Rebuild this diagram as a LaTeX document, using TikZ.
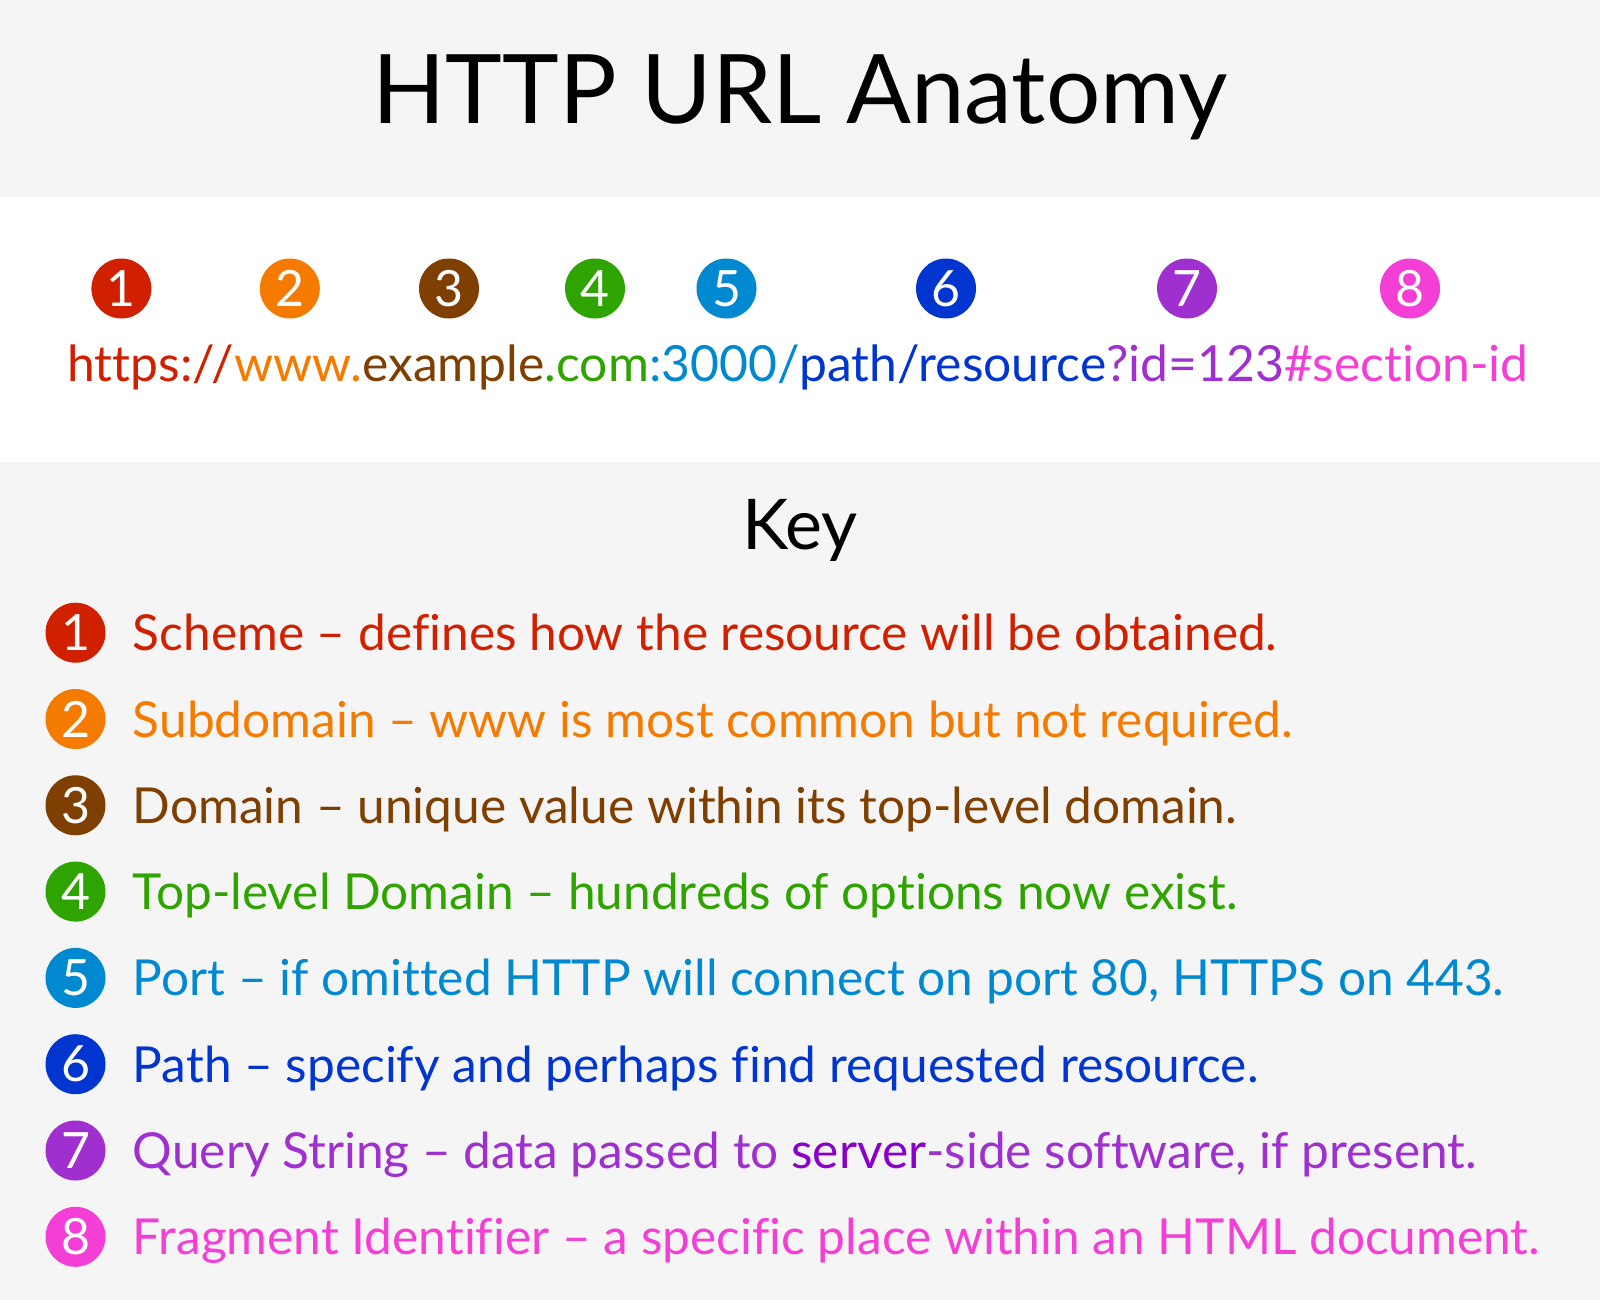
\documentclass[tikz,border=0pt]{standalone}
\usepackage{fontspec}
\setmainfont{Lato}[Ligatures={TeX,NoCommon}]
\usetikzlibrary{positioning}

\definecolor{bandgray}{HTML}{F5F5F5}
\definecolor{c1}{HTML}{D12000}
\definecolor{c2}{HTML}{F47B00}
\definecolor{c3}{HTML}{7F3F00}
\definecolor{c4}{HTML}{2FA300}
\definecolor{c5}{HTML}{0088D0}
\definecolor{c6}{HTML}{0035D0}
\definecolor{c7}{HTML}{A02FCF}
\definecolor{c7dark}{HTML}{8A00C8}
\definecolor{c8}{HTML}{F43FD6}

\begin{document}
\begin{tikzpicture}[x=1pt,y=1pt,node distance=86.3pt,
    num/.style={circle,fill=#1,text=white,minimum size=60pt,inner sep=0pt,font=\fontsize{50}{50}\selectfont},
    keytext/.style={anchor=west,inner sep=0pt,text height=36pt,text depth=0pt,text=#1,font=\fontsize{49.6}{60}\selectfont}]

            % bands
            \fill[bandgray] (0,0) rectangle (1600,-197);
            \fill[white] (0,-197) rectangle (1600,-462);
            \fill[bandgray] (0,-462) rectangle (1600,-1300);
            \useasboundingbox (0,0) rectangle (1600,-1300);

            \node[anchor=base,inner sep=0pt,font=\fontsize{96}{110}\selectfont] (title) at (800,-123.6) {HTTP URL Anatomy};

            \node[num=c1] (1) at (121.4,-288.5) {1};
            \node[num=c2] (2) at (289.8,-288.5) {2};
            \node[num=c3] (3) at (449,-288.5) {3};
            \node[num=c4] (4) at (595,-288.5) {4};
            \node[num=c5] (5) at (726.5,-288.5) {5};
            \node[num=c6] (6) at (946,-288.5) {6};
            \node[num=c7] (7) at (1187,-288.5) {7};
            \node[num=c8] (8) at (1410,-288.5) {8};

            \node[anchor=base,inner sep=0pt,font=\fontsize{49.8}{60}\selectfont] (url) at (798,-381)
                {\textcolor{c1}{https:/\kern-3pt/}\textcolor{c2}{www.}\textcolor{c3}{example}\textcolor{c4}{.com}\textcolor{c5}{:3000/}\textcolor{c6}{path/resource}\textcolor{c7}{?id=123}\textcolor{c8}{\#section-id}};

            \node[anchor=base,inner sep=0pt,font=\fontsize{70}{80}\selectfont] (key) at (800,-549) {Key};

            \node[num=c1] (k1) at (75.5,-632.7) {1};
            \node[num=c2] (k2) [below of = k1] {2};
            \node[num=c3] (k3) [below of = k2] {3};
            \node[num=c4] (k4) [below of = k3] {4};
            \node[num=c5] (k5) [below of = k4] {5};
            \node[num=c6] (k6) [below of = k5] {6};
            \node[num=c7] (k7) [below of = k6] {7};
            \node[num=c8] (k8) [below of = k7] {8};

            \node[keytext=c1, right=27pt of k1] (t1) {Scheme -- defines how the resource will be obtained.};
            \node[keytext=c2, right=27pt of k2] (t2) {Subdomain -- www is most common but not required.};
            \node[keytext=c3, right=27pt of k3] (t3) {Domain -- unique value within its top-level domain.};
            \node[keytext=c4, right=27pt of k4] (t4) {Top-level Domain -- hundreds of options now exist.};
            \node[keytext=c5, right=27pt of k5] (t5) {Port -- if omitted HTTP will connect on port 80, HTTPS on 443.};
            \node[keytext=c6, right=27pt of k6] (t6) {Path -- specify and perhaps find requested resource.};
            \node[keytext=c7, right=27pt of k7] (t7) {Query String -- data passed to \textcolor{c7dark}{server}-side software, if present.};
            \node[keytext=c8, right=27pt of k8] (t8) {Fragment Identifier -- a specific place within an HTML document.};

        \end{tikzpicture}
\end{document}
